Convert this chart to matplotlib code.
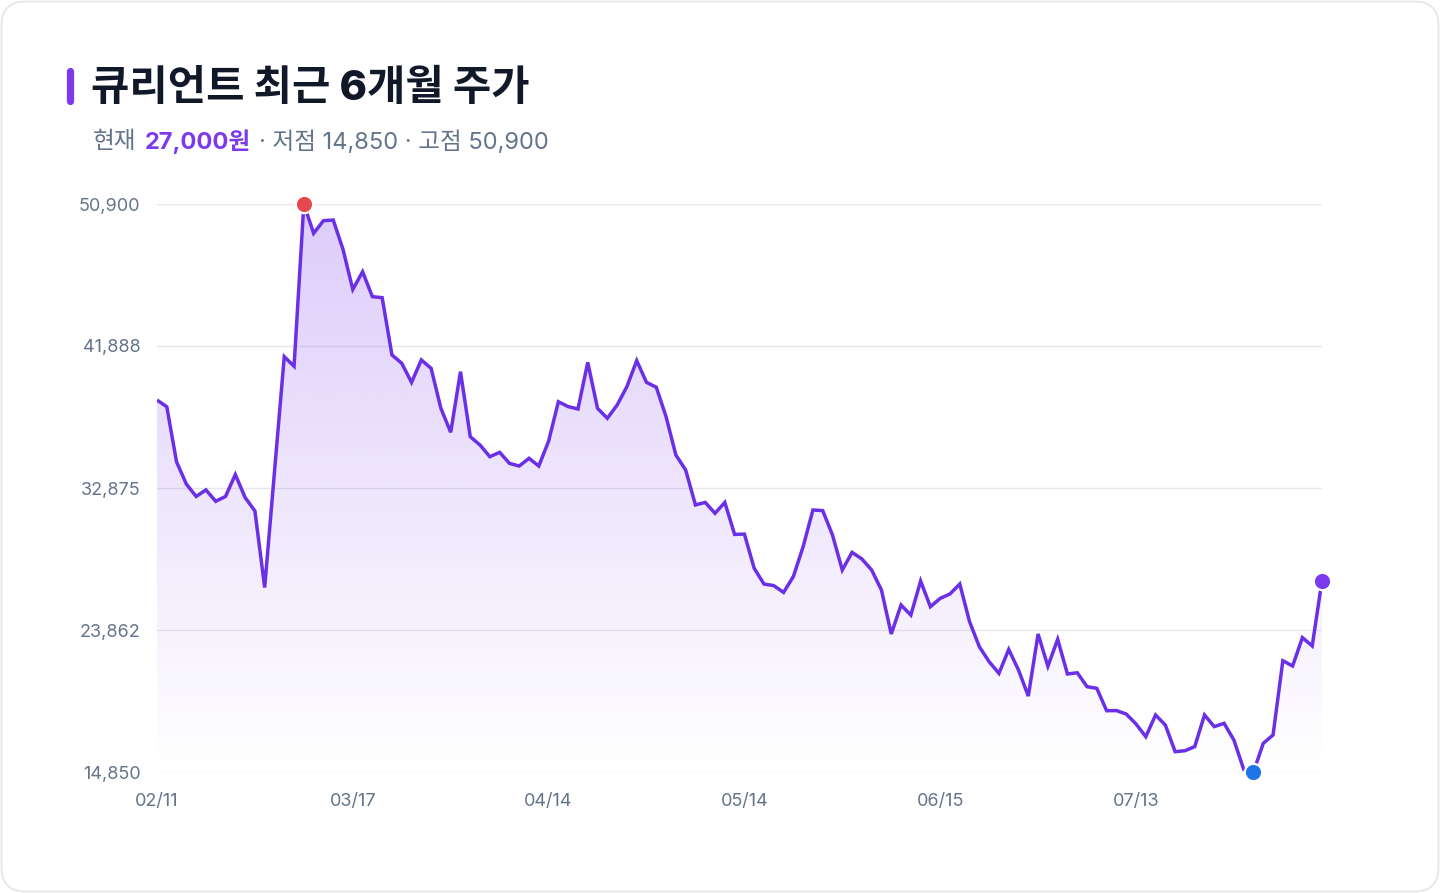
import matplotlib
matplotlib.use("Agg")
import matplotlib.pyplot as plt
import numpy as np
from matplotlib.patches import FancyBboxPatch, Polygon
from matplotlib.lines import Line2D

# ---------------- data ----------------
prices = [
    38460, 38030, 34530, 33120, 32340, 32755, 32030, 32340, 33730, 32270,
    31420, 26560, 33910, 41210, 40600, 50900, 49040, 49840, 49885, 48020,
    45480, 46600, 45020, 44955, 41320, 40790, 39580, 41000, 40470, 37930,
    36410, 40260, 36130, 35600, 34860, 35140, 34440, 34270, 34760, 34270,
    35850, 38350, 38040, 37890, 40850, 37930, 37300, 38140, 39310, 40960,
    39580, 39270, 37400, 34970, 34020, 31800, 31960, 31270, 31960, 29930,
    29950, 27780, 26780, 26680, 26250, 27250, 29150, 31480, 31440, 29890,
    27670, 28790, 28370, 27670, 26400, 23610, 25450, 24810, 26970, 25340,
    25870, 26150, 26780, 24390, 22800, 21850, 21110, 22630, 21320, 19670,
    23610, 21560, 23270, 21070, 21150, 20265, 20160, 18740, 18750, 18530,
    17900, 17090, 18470, 17830, 16140, 16200, 16460, 18470, 17730, 17940,
    16880, 15020, 14850, 16670, 17200, 21910, 21580, 23380, 22850, 27000,
]
xtick_idx = [0, 20, 40, 60, 80, 100]
xtick_labels = ["02/11", "03/17", "04/14", "05/14", "06/15", "07/13"]
ytick_vals = [14850, 23862, 32875, 41888, 50900]
ytick_labels = ["14,850", "23,862", "32,875", "41,888", "50,900"]
title = "큐리언트 최근 6개월 주가"
sub_a = "현재"
sub_b = "27,000원"
sub_c = "· 저점 14,850 · 고점 50,900"

# ---------------- style ----------------
FAM = ["Inter", "Noto Sans CJK KR", "DejaVu Sans"]
plt.rcParams["font.family"] = FAM
W, H = 1440, 893
LINE = "#6a2fe6"
PURPLE = "#7c3aed"
GRAY = "#64748b"
DARK = "#111827"
GRID = "#e5e7eb"

fig = plt.figure(figsize=(W / 100, H / 100), dpi=100)
fig.patch.set_facecolor("white")

# background axes in pixel coordinates
bg = fig.add_axes([0, 0, 1, 1], zorder=0)
bg.set_xlim(0, W)
bg.set_ylim(H, 0)
bg.axis("off")
card = FancyBboxPatch((1.5, 1.5), W - 3, H - 3,
                      boxstyle="round,pad=0,rounding_size=24",
                      facecolor="white", edgecolor="#e4e4e7", linewidth=1.2)
bg.add_patch(card)
bg.add_line(Line2D([69.5, 69.5], [71, 101], color=PURPLE, linewidth=5.2,
                   solid_capstyle="round"))
bg.text(91, 88, title, fontsize=30, fontweight="heavy", color=DARK,
        va="center", ha="left", family=FAM)

fig.canvas.draw()
renderer = fig.canvas.get_renderer()
inv = bg.transData.inverted()

def place(x, s, **kw):
    t = bg.text(x, 142, s, va="center", ha="left", family=FAM, **kw)
    bb = t.get_window_extent(renderer=renderer)
    x1 = inv.transform((bb.x1, bb.y0))[0]
    return x1

x = 93
x = place(x, sub_a, fontsize=17, color=GRAY)
x = place(x + 8, sub_b, fontsize=17, color=PURPLE, fontweight="bold")
x = place(x + 8, sub_c, fontsize=17, color=GRAY)

# ---------------- main chart ----------------
L, R = 157, 1322
T, B = 204, 772
ax = fig.add_axes([L / W, (H - B) / H, (R - L) / W, (B - T) / H], zorder=1)
ax.patch.set_alpha(0)
xs = np.arange(len(prices))
ax.set_xlim(0, len(prices) - 1)
ax.set_ylim(ytick_vals[0], ytick_vals[-1])

for v in ytick_vals:
    ax.axhline(v, color=GRID, linewidth=1.0, zorder=0)

# gradient fill under the line
grad = np.zeros((256, 1, 4))
rgb = np.array([124, 58, 237]) / 255.0
grad[:, 0, :3] = rgb
grad[:, 0, 3] = np.linspace(0.26, 0.0, 256)
im = ax.imshow(grad, extent=[0, len(prices) - 1, ytick_vals[0], ytick_vals[-1]],
               aspect="auto", origin="upper", zorder=1, interpolation="bilinear")
verts = [(0, ytick_vals[0])] + list(zip(xs, prices)) + [(len(prices) - 1, ytick_vals[0])]
poly = Polygon(verts, closed=True, facecolor="none", edgecolor="none",
               transform=ax.transData)
ax.add_patch(poly)
im.set_clip_path(poly)

ax.plot(xs, prices, color=LINE, linewidth=2.5, zorder=3,
        solid_joinstyle="miter", solid_capstyle="butt")

imax = int(np.argmax(prices))
imin = int(np.argmin(prices))
ilast = len(prices) - 1
for i, c in [(imax, "#e5484d"), (imin, "#1f74e8"), (ilast, PURPLE)]:
    ax.plot([xs[i]], [prices[i]], "o", ms=12.5, mfc=c, mec="white", mew=1.6,
            zorder=5, clip_on=False)

ax.set_xticks(xtick_idx, xtick_labels)
ax.set_yticks(ytick_vals, ytick_labels)
ax.tick_params(axis="both", length=0, colors=GRAY, labelsize=13)
ax.tick_params(axis="y", pad=12)
ax.tick_params(axis="x", pad=15)
for s in ax.spines.values():
    s.set_visible(False)

fig.savefig("out.png", dpi=100, facecolor="white")
